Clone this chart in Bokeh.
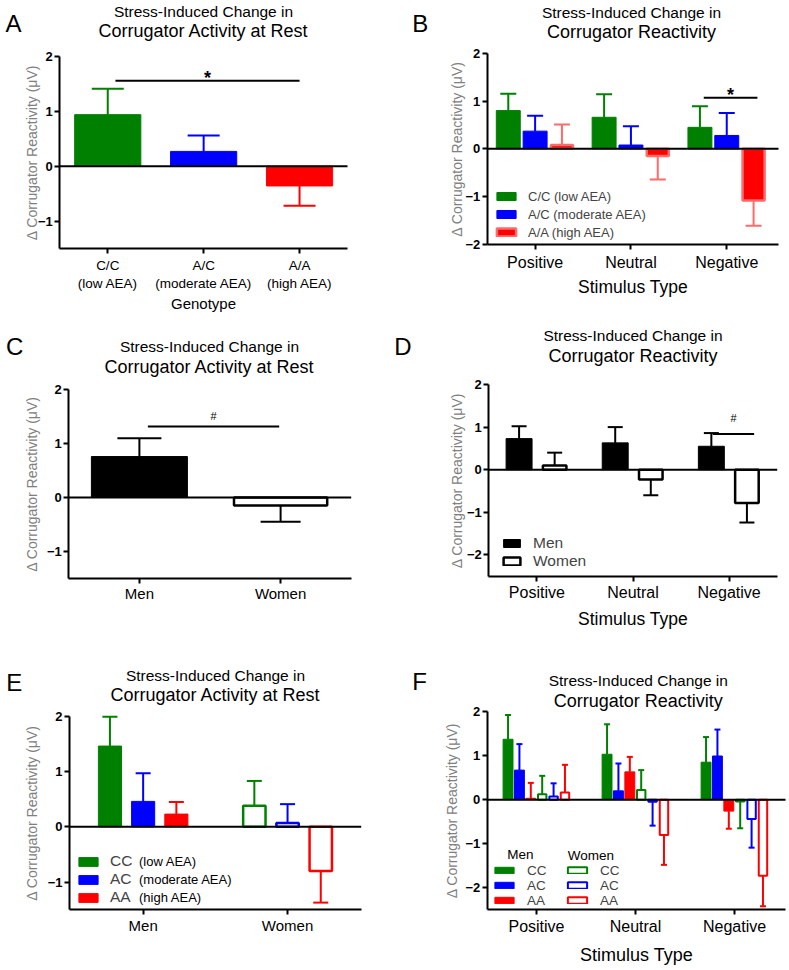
import numpy as np
from bokeh.plotting import figure
from bokeh.models import (ColumnDataSource, Range1d, Label, Legend, LegendItem,
                          FixedTicker, LinearAxis)
from bokeh.embed import file_html
from bokeh.resources import INLINE
from bokeh.core.properties import value

W, H = 789, 970
FONT = "Liberation Sans"
GREEN, BLUE, RED = "#008000", "#0000ff", "#ff0000"
RED_LIGHT = "#ff6a6a"

TITLE1 = "Stress-Induced Change in"
TITLE_REST = "Corrugator Activity at Rest"
TITLE_REACT = "Corrugator Reactivity"
YLABEL = "Δ Corrugator Reactivity (μV)"
STIM_LABEL = "Stimulus Type"

# ---------------- data ----------------
# Panel A (genotype, rest)
a_geno = ["C/C", "A/C", "A/A"]
a_desc = ["(low AEA)", "(moderate AEA)", "(high AEA)"]
a_mean = [0.94, 0.27, -0.36]
a_sem = [0.47, 0.29, 0.36]

# Panel B (genotype x stimulus)
stim_cats = ["Positive", "Neutral", "Negative"]
b_labels = ["C/C (low AEA)", "A/C (moderate AEA)", "A/A (high AEA)"]
b_cc_mean = [0.80, 0.66, 0.45]
b_cc_sem = [0.35, 0.48, 0.44]
b_ac_mean = [0.37, 0.08, 0.28]
b_ac_sem = [0.32, 0.39, 0.47]
b_aa_mean = [0.08, -0.15, -1.08]
b_aa_sem = [0.43, 0.49, 0.53]

# Panel C (sex, rest)
sex_cats = ["Men", "Women"]
c_mean = [0.76, -0.15]
c_sem = [0.34, 0.30]

# Panel D (sex x stimulus)
d_men_mean = [0.73, 0.63, 0.55]
d_men_sem = [0.29, 0.37, 0.31]
d_women_mean = [0.10, -0.23, -0.78]
d_women_sem = [0.30, 0.37, 0.46]

# Panel E (sex x genotype, rest) values per [Men, Women]
e_labels = ["CC", "AC", "AA"]
e_suffix = ["(low AEA)", "(moderate AEA)", "(high AEA)"]
e_cc_mean = [1.46, 0.38]
e_cc_sem = [0.53, 0.45]
e_ac_mean = [0.46, 0.07]
e_ac_sem = [0.51, 0.34]
e_aa_mean = [0.23, -0.80]
e_aa_sem = [0.22, 0.57]

# Panel F (sex x genotype x stimulus)
f_men_cc_mean = [1.37, 1.03, 0.85]
f_men_cc_sem = [0.55, 0.68, 0.57]
f_men_ac_mean = [0.67, 0.20, 0.99]
f_men_ac_sem = [0.59, 0.62, 0.60]
f_men_aa_mean = [0.03, 0.63, -0.26]
f_men_aa_sem = [0.35, 0.34, 0.40]
f_women_cc_mean = [0.12, 0.22, -0.04]
f_women_cc_sem = [0.42, 0.45, 0.61]
f_women_ac_mean = [0.07, -0.05, -0.44]
f_women_ac_sem = [0.30, 0.54, 0.65]
f_women_aa_mean = [0.16, -0.80, -1.73]
f_women_aa_sem = [0.63, 0.68, 0.69]

# significance brackets: (from group, to group, bracket height, mark, mark height)
sig_a = ("C/C", "A/A", 1.56, "*", 1.60)
sig_b = ("Negative", "Negative", 1.07, "*", 1.12)
sig_c = ("Men", "Women", 1.32, "#", 1.52)
sig_d = ("Negative", "Negative", 0.84, "#", 1.22)

# ---------------- layout geometry (pixels of each panel's axes box) ----------------
GEOM = {
    "A": dict(px=(59.3, 347.0), py=(56.0, 248.0), xlim=(0.5, 3.5), ylim=(-1.5, 2.0)),
    "B": dict(px=(486.7, 778.0), py=(52.7, 244.0), xlim=(0.5, 3.54), ylim=(-2.0, 2.0)),
    "C": dict(px=(68.3, 350.7), py=(389.3, 577.7), xlim=(0.5, 2.5), ylim=(-1.5, 2.0)),
    "D": dict(px=(488.3, 776.7), py=(384.0, 575.7), xlim=(0.5, 3.5), ylim=(-2.5, 2.0)),
    "E": dict(px=(69.0, 360.7), py=(715.7, 909.3), xlim=(0.49, 2.51), ylim=(-1.5, 2.0)),
    "F": dict(px=(486.7, 785.0), py=(711.0, 909.3), xlim=(0.502, 3.515), ylim=(-2.5, 2.0)),
}

p = figure(width=W, height=H, x_range=Range1d(0, W), y_range=Range1d(H, 0),
           x_axis_location=None, y_axis_location=None, min_border=0,
           output_backend="svg", toolbar_location=None, tools="")
p.outline_line_color = None
p.background_fill_color = "white"
p.border_fill_color = "white"
p.xgrid.grid_line_color = None
p.ygrid.grid_line_color = None


def style_axis(ax):
    ax.axis_line_width = 2
    ax.axis_line_color = "black"
    ax.major_tick_line_width = 2
    ax.major_tick_line_color = "black"
    ax.major_tick_out = 5
    ax.major_tick_in = 0
    ax.minor_tick_line_color = None
    ax.major_label_text_font = FONT
    ax.major_label_text_color = "black"
    ax.axis_label_text_font = FONT
    ax.axis_label_text_font_style = "normal"


def panel(key, cats, yticks, xfont, xlabel, xls, xals, yals):
    g = GEOM[key]
    (px0, px1), (pyt, pyb) = g["px"], g["py"]
    (x0, x1), (y0, y1) = g["xlim"], g["ylim"]
    sx = (px1 - px0) / (x1 - x0)
    ky = (pyb - pyt) / (y1 - y0)
    xn, yn = "x" + key, "y" + key
    p.extra_x_ranges[xn] = Range1d(x0 - px0 / sx, x0 + (W - px0) / sx)
    p.extra_y_ranges[yn] = Range1d(y1 - (H - pyt) / ky, y1 + pyt / ky)

    xa = LinearAxis(x_range_name=xn, y_range_name=yn, fixed_location=y0, bounds=(x0, x1),
                    ticker=FixedTicker(ticks=list(range(1, len(cats) + 1))),
                    major_label_overrides={i + 1: c for i, c in enumerate(cats)})
    style_axis(xa)
    xa.major_label_text_font_size = xfont
    xa.major_label_standoff = xls
    if xlabel:
        xa.axis_label = xlabel[0]
        xa.axis_label_text_font_size = xlabel[1]
        xa.axis_label_text_color = "black"
        xa.axis_label_standoff = xals
    p.add_layout(xa, "below")

    ya = LinearAxis(x_range_name=xn, y_range_name=yn, fixed_location=x0, bounds=(y0, y1),
                    ticker=FixedTicker(ticks=yticks))
    style_axis(ya)
    ya.major_label_text_font_style = "bold"
    ya.major_label_text_font_size = "13px"
    ya.major_label_standoff = 2
    ya.axis_label = YLABEL
    ya.axis_label_text_color = "#808080"
    ya.axis_label_text_font_size = "14px"
    ya.axis_label_standoff = yals
    p.add_layout(ya, "left")
    return dict(xn=xn, yn=yn, x0=x0, x1=x1, cats=list(cats))


def zero_line(pan):
    src = ColumnDataSource(dict(a=[pan["x0"]], b=[pan["x1"]], z=[0.0]))
    p.segment(x0="a", y0="z", x1="b", y1="z", source=src, line_color="black",
              line_width=2, x_range_name=pan["xn"], y_range_name=pan["yn"])


def bars(pan, idx, means, sems, offset, width, fill, line, lw, cap, err):
    x = np.asarray(idx, dtype=float) + offset
    m = np.asarray(means, dtype=float)
    s = np.asarray(sems, dtype=float)
    tip = m + np.sign(m) * s
    src = ColumnDataSource(dict(x=x, top=m, tip=tip))
    kw = dict(source=src, x_range_name=pan["xn"], y_range_name=pan["yn"])
    r = p.vbar(x="x", top="top", bottom=0, width=width, fill_color=fill,
               line_color=line, line_width=lw, **kw)
    p.segment(x0="x", y0="top", x1="x", y1="tip", line_color=err, line_width=2, **kw)
    p.scatter(x="x", y="tip", marker="dash", size=cap, line_color=err, line_width=2, **kw)
    return r


def sig(pan, spec, o0, o1, size, style):
    c0, c1, y, mark, my = spec
    xa = pan["cats"].index(c0) + 1 + o0
    xb = pan["cats"].index(c1) + 1 + o1
    src = ColumnDataSource(dict(xa=[xa], xb=[xb], y=[y], xm=[(xa + xb) / 2], my=[my], t=[mark]))
    kw = dict(source=src, x_range_name=pan["xn"], y_range_name=pan["yn"])
    p.segment(x0="xa", y0="y", x1="xb", y1="y", line_color="black", line_width=2, **kw)
    p.text(x="xm", y="my", text="t", text_align="center", text_baseline="alphabetic",
           text_font=value(FONT), text_font_size=value(size),
           text_font_style=value(style), text_color="black", **kw)


def label(x, y, text, size, align="center"):
    p.add_layout(Label(x=x, y=y, text=text, text_align=align, text_baseline="middle",
                       text_font=FONT, text_font_size=size, text_color="black"))


def titles(cx, y1, y2, line2, letter, lx, ly):
    label(cx, y1, TITLE1, "15.5px")
    label(cx, y2, line2, "18px")
    label(lx, ly, letter, "24px")


def legend(items, loc, gw, gh, fs, lh, spacing, standoff):
    lg = Legend(items=[LegendItem(label=l, renderers=[r]) for l, r in items],
                location=loc, orientation="vertical", glyph_width=gw, glyph_height=gh,
                label_text_font=FONT, label_text_font_size=fs, label_height=lh,
                label_standoff=standoff, spacing=spacing, padding=0, margin=0,
                border_line_color=None, background_fill_alpha=0)
    p.add_layout(lg)


# ---------------- Panel A ----------------
a_ticks = [f"{g}\n{d}" for g, d in zip(a_geno, a_desc)]
pa = panel("A", a_ticks, [-1, 0, 1, 2], "13.5px", ("Genotype", "15px"), 4, 1, -5)
pa["cats"] = a_geno
for i, col in enumerate([GREEN, BLUE, RED]):
    bars(pa, [i + 1], [a_mean[i]], [a_sem[i]], 0, 0.69, col, col, 1, 32, col)
zero_line(pa)
sig(pa, sig_a, 0.08, 0.0, "18px", "bold")
titles(203, 11, 30.5, TITLE_REST, "A", 13, 23.3)

# ---------------- Panel B ----------------
pb = panel("B", stim_cats, [-2, -1, 0, 1, 2], "16px", (STIM_LABEL, "17.5px"), 4, 3, -2)
idx3 = np.arange(1, len(stim_cats) + 1)
rb1 = bars(pb, idx3, b_cc_mean, b_cc_sem, -0.28, 0.25, GREEN, GREEN, 1, 16, GREEN)
rb2 = bars(pb, idx3, b_ac_mean, b_ac_sem, 0.0, 0.25, BLUE, BLUE, 1, 16, BLUE)
rb3 = bars(pb, idx3, b_aa_mean, b_aa_sem, 0.28, 0.23, RED, RED_LIGHT, 2.5, 16, RED_LIGHT)
zero_line(pb)
sig(pb, sig_b, -0.24, 0.32, "18px", "bold")
legend(list(zip(b_labels, [rb1, rb2, rb3])), (494, H - 240), 24, 10, "13px", 16, 2, 10)
titles(631, 11.7, 31, TITLE_REACT, "B", 419.7, 23.3)

# ---------------- Panel C ----------------
pc = panel("C", sex_cats, [-1, 0, 1, 2], "15px", None, 2, 0, 4)
bars(pc, [1], [c_mean[0]], [c_sem[0]], 0, 0.68, "black", "black", 1, 44, "black")
bars(pc, [2], [c_mean[1]], [c_sem[1]], 0, 0.66, "white", "black", 2.5, 40, "black")
zero_line(pc)
sig(pc, sig_c, 0.06, -0.01, "11px", "normal")
titles(209, 345.8, 366, TITLE_REST, "C", 14.2, 345.8)

# ---------------- Panel D ----------------
pd_ = panel("D", stim_cats, [-2, -1, 0, 1, 2], "16px", (STIM_LABEL, "17.5px"), 3, 4, -1)
rd1 = bars(pd_, idx3, d_men_mean, d_men_sem, -0.185, 0.27, "black", "black", 1, 15, "black")
rd2 = bars(pd_, idx3, d_women_mean, d_women_sem, 0.185, 0.245, "white", "black", 2.5, 15, "black")
zero_line(pd_)
sig(pd_, sig_d, -0.17, 0.26, "11px", "normal")
legend([("Men", rd1), ("Women", rd2)], (501, H - 569.5), 21, 10, "15.5px", 15, -1, 11)
titles(632.5, 335, 355.5, TITLE_REACT, "D", 402.5, 345.5)

# ---------------- Panel E ----------------
pe = panel("E", sex_cats, [-1, 0, 1, 2], "15px", None, 2, 0, 5)
e_items = []
for off, col, mn, se, lab in [(-0.23, GREEN, e_cc_mean, e_cc_sem, e_labels[0]),
                              (0.0, BLUE, e_ac_mean, e_ac_sem, e_labels[1]),
                              (0.23, RED, e_aa_mean, e_aa_sem, e_labels[2])]:
    r = bars(pe, [1], [mn[0]], [se[0]], off, 0.16, col, col, 1, 15, col)
    bars(pe, [2], [mn[1]], [se[1]], off, 0.155, "white", col, 2.5, 15, col)
    e_items.append((lab, r))
zero_line(pe)
legend(e_items, (76, H - 906), 24, 11, "15.5px", 16, 0, 10)
for k, suf in enumerate(e_suffix):
    label(138.5, 861.3 + k * 17.9, suf, "13px", align="left")
titles(215, 675, 694.5, TITLE_REST, "E", 13.7, 682)

# ---------------- Panel F ----------------
pf = panel("F", stim_cats, [-2, -1, 0, 1, 2], "16px", (STIM_LABEL, "18px"), 3, 7, 3)
step = 0.115
f_series = [
    (f_men_cc_mean, f_men_cc_sem, GREEN, True),
    (f_men_ac_mean, f_men_ac_sem, BLUE, True),
    (f_men_aa_mean, f_men_aa_sem, RED, True),
    (f_women_cc_mean, f_women_cc_sem, GREEN, False),
    (f_women_ac_mean, f_women_ac_sem, BLUE, False),
    (f_women_aa_mean, f_women_aa_sem, RED, False),
]
f_men_r, f_women_r = [], []
for k, (mn, se, col, filled) in enumerate(f_series):
    off = (k - 2.5) * step
    if filled:
        f_men_r.append(bars(pf, idx3, mn, se, off, 0.10, col, col, 1, 6, col))
    else:
        f_women_r.append(bars(pf, idx3, mn, se, off, 0.085, "white", col, 2, 6, col))
zero_line(pf)
legend(list(zip(e_labels, f_men_r)), (492, H - 907.75), 24, 8, "13.5px", 13, 0, 11)
legend(list(zip(e_labels, f_women_r)), (565, H - 907.75), 24, 8, "13.5px", 13, 0, 11)
label(520, 854, "Men", "13.5px")
label(590.3, 855, "Women", "13.5px")
titles(637.8, 680, 700, TITLE_REACT, "F", 419, 680.8)

open("out.html", "w").write(file_html(p, INLINE))
